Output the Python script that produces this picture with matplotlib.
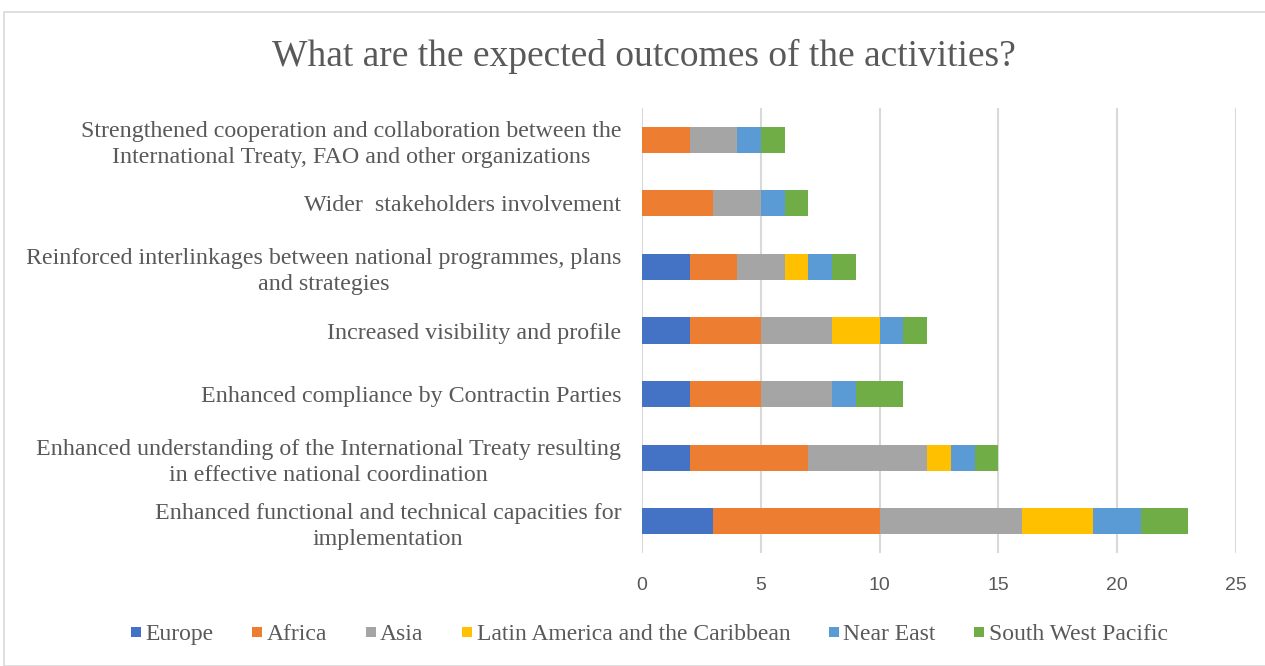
import matplotlib
matplotlib.use("Agg")
import matplotlib.pyplot as plt
from matplotlib.patches import Rectangle
from matplotlib.lines import Line2D

categories = [
    "Enhanced functional and technical capacities for\nimplementation",
    "Enhanced understanding of the International Treaty resulting\nin effective national coordination",
    "Enhanced compliance by Contractin Parties",
    "Increased visibility and profile",
    "Reinforced interlinkages between national programmes, plans\nand strategies",
    "Wider  stakeholders involvement",
    "Strengthened cooperation and collaboration between the\nInternational Treaty, FAO and other organizations",
]
series_names = ["Europe", "Africa", "Asia", "Latin America and the Caribbean",
                "Near East", "South West Pacific"]
europe = [3, 2, 2, 2, 2, 0, 0]
africa = [7, 5, 3, 3, 2, 3, 2]
asia = [6, 5, 3, 3, 2, 2, 2]
latam = [3, 1, 0, 2, 1, 0, 0]
near_east = [2, 1, 1, 1, 1, 1, 1]
sw_pacific = [2, 1, 2, 1, 1, 1, 1]
xticks = [0, 5, 10, 15, 20, 25]

colors = ["#4472C4", "#ED7D31", "#A5A5A5", "#FFC000", "#5B9BD5", "#70AD47"]
text_color = "#595959"
serif = ["Liberation Serif", "DejaVu Serif"]

fig = plt.figure(figsize=(12.65, 6.66), dpi=100)
fig.patches.append(Rectangle((4 / 1265, 0.0), 1.0, 1 - 12 / 666, transform=fig.transFigure,
                             fill=False, edgecolor="#D9D9D9", linewidth=1.2))
ax = fig.add_axes([642 / 1265, 1 - 553 / 666, (1236 - 642) / 1265, (553 - 108) / 666])

all_series = [europe, africa, asia, latam, near_east, sw_pacific]
y = list(range(len(categories)))
left = [0] * len(categories)
for name, vals, c in zip(series_names, all_series, colors):
    ax.barh(y, vals, left=left, height=0.41, color=c, label=name, zorder=3)
    left = [l + v for l, v in zip(left, vals)]

ax.set_xlim(0, 25)
ax.set_ylim(-0.5, len(categories) - 0.5)
ax.set_xticks(xticks)
ax.set_xticklabels([str(t) for t in xticks], fontsize=14, color=text_color,
                   family=["Liberation Sans", "DejaVu Sans"])
ax.set_yticks(y)
ax.set_yticklabels(categories, fontsize=17.3, color=text_color, family=serif,
                   multialignment="center", linespacing=1.3)
ax.tick_params(axis="both", length=0)
ax.tick_params(axis="y", pad=15)
ax.tick_params(axis="x", pad=17)
ax.grid(axis="x", color="#D9D9D9", linewidth=1.5, zorder=0)
for s in ax.spines.values():
    s.set_visible(False)

fig.text(0.509, 1 - 56 / 666, "What are the expected outcomes of the activities?",
         ha="center", va="center", fontsize=27, color=text_color, family=serif)

handles = [Line2D([], [], marker="s", linestyle="", markersize=7, color=c,
                  markeredgewidth=0) for c in colors]
fig.legend(handles, series_names, loc="center", bbox_to_anchor=(0.513, 1 - 634 / 666), ncol=6,
           frameon=False, prop={"family": serif, "size": 17}, labelcolor=text_color,
           handlelength=0.5, handletextpad=0.15, columnspacing=1.6)

fig.savefig("out.png", dpi=100)
